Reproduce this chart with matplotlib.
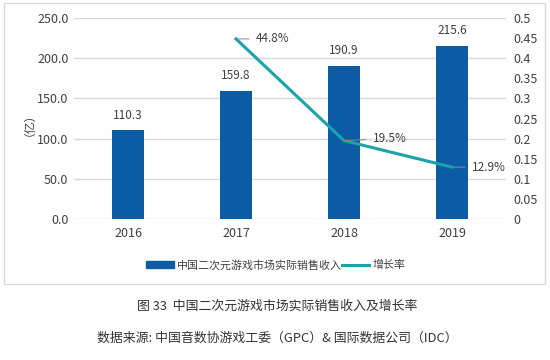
import matplotlib.pyplot as plt
from matplotlib.patches import Rectangle
from matplotlib.lines import Line2D

plt.rcParams['font.family'] = ['Noto Sans CJK SC', 'DejaVu Sans']

years = ['2016', '2017', '2018', '2019']
revenue = [110.3, 159.8, 190.9, 215.6]
growth_years = ['2017', '2018', '2019']
growth = [0.448, 0.195, 0.129]
growth_labels = ['44.8%', '19.5%', '12.9%']
left_ticks = [0, 50, 100, 150, 200, 250]
right_ticks = [0, 0.05, 0.1, 0.15, 0.2, 0.25, 0.3, 0.35, 0.4, 0.45, 0.5]
right_tick_labels = ['0', '0.05', '0.1', '0.15', '0.2', '0.25', '0.3', '0.35', '0.4', '0.45', '0.5']

BAR_COLOR = '#0B5BA5'
LINE_COLOR = '#1AA3A8'
TEXT_COLOR = '#404040'
GRID_COLOR = '#D9D9D9'

fig = plt.figure(figsize=(5.5, 3.6), dpi=100)
fig.patches.append(Rectangle((4 / 550, 1 - 284 / 360), 541 / 550, 281 / 360,
                             transform=fig.transFigure, fill=False,
                             edgecolor='#D9D9D9', linewidth=1))

ax = fig.add_axes([74 / 550, 1 - 219 / 360, 432 / 550, 201 / 360])
x = list(range(len(years)))
ax.bar(x, revenue, width=0.305, color=BAR_COLOR, zorder=2)
ax.set_xlim(-0.5, len(years) - 0.5)
ax.set_ylim(0, 250)
ax.set_yticks(left_ticks)
ax.set_yticklabels([f'{v:.1f}' for v in left_ticks])
ax.set_xticks(x)
ax.set_xticklabels(years)
ax.grid(axis='y', color=GRID_COLOR, linewidth=1, zorder=0)
for s in ax.spines.values():
    s.set_visible(False)
ax.tick_params(length=0, labelsize=9, colors=TEXT_COLOR)
ax.tick_params(axis='y', pad=4)
ax.tick_params(axis='x', pad=6)

# bar value labels
for xi, v in zip(x, revenue):
    ax.annotate(f'{v:.1f}', (xi, v), xytext=(0, 6), textcoords='offset points',
                ha='center', va='bottom', fontsize=8.5, color=TEXT_COLOR)

# growth rate on the right axis
ax2 = ax.twinx()
ax2.set_ylim(0, 0.5)
ax2.set_yticks(right_ticks)
ax2.set_yticklabels(right_tick_labels)
for s in ax2.spines.values():
    s.set_visible(False)
ax2.tick_params(length=0, labelsize=9, colors=TEXT_COLOR, pad=5)

gx = [years.index(y) for y in growth_years]
ax2.plot(gx, growth, color=LINE_COLOR, linewidth=2.2, zorder=3)

offsets = [(20, 0), (29, 2), (20, 0)]
for xi, v, t, off in zip(gx, growth, growth_labels, offsets):
    ax2.annotate(t, (xi, v), xytext=off, textcoords='offset pixels',
                 ha='left', va='center', fontsize=8.5, color=TEXT_COLOR,
                 arrowprops=dict(arrowstyle='-', color='#8C8C8C', lw=0.7,
                                 shrinkA=3, shrinkB=1))

fig.text(23 / 550, 1 - 118 / 360, '（亿）', rotation=90, ha='center', va='center',
         fontsize=8.5, color=TEXT_COLOR)

handles = [Rectangle((0, 0), 1, 1, color=BAR_COLOR),
           Line2D([0], [0], color=LINE_COLOR, linewidth=2.2)]
fig.legend(handles, ['中国二次元游戏市场实际销售收入', '增长率'], ncol=2,
           loc='center', bbox_to_anchor=(276 / 550, 1 - 265 / 360), frameon=False,
           fontsize=7.9, handlelength=2.5, handleheight=0.6, columnspacing=0.0,
           handletextpad=0.3, labelcolor=TEXT_COLOR)

fig.text(277 / 550, 1 - 306 / 360, '图 33  中国二次元游戏市场实际销售收入及增长率',
         ha='center', va='center', fontsize=9.3, color='#333333')
fig.text(277 / 550, 1 - 338 / 360, '数据来源: 中国音数协游戏工委（GPC）& 国际数据公司（IDC）',
         ha='center', va='center', fontsize=9.3, color='#333333')

fig.savefig('out.png', dpi=100, facecolor='white')
